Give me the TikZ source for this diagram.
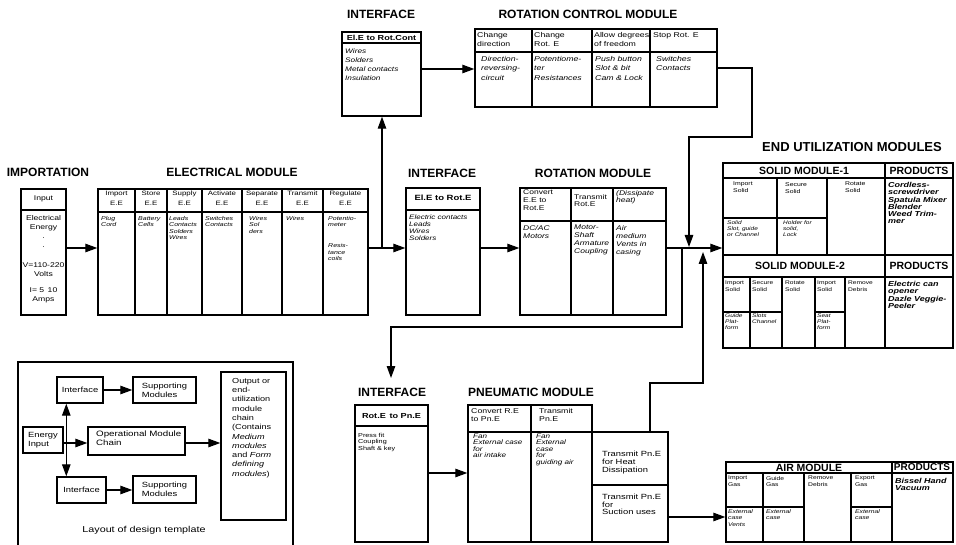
\documentclass[tikz,border=0pt]{standalone}
\usepackage{fontspec}
\setmainfont{Liberation Sans}[FakeStretch=1.25]
\newfontfamily\ttlfont{Liberation Sans}
\usetikzlibrary{arrows.meta,fit}
\newcommand\myfs[2]{\fontsize{#1}{#2}\selectfont}
\begin{document}
\begin{tikzpicture}[x=1pt,y=-1pt,
  bx/.style={draw, line width=1.4pt, inner sep=0pt, fit={#1}},
  ln/.style={line width=1.1pt},
  arr/.style={line width=1.2pt, -{Triangle[length=12pt,width=8.5pt]}},
  darr/.style={line width=1.2pt, {Triangle[length=12pt,width=8.5pt]}-{Triangle[length=12pt,width=8.5pt]}},
  ttl/.style={font=\ttlfont\bfseries\myfs{12}{14}, inner sep=0pt},
  hd/.style={font=\ttlfont\bfseries\myfs{10.5}{12}, inner sep=0pt},
  tx/.style={anchor=north west, align=left, inner sep=0pt},
  tc/.style={anchor=north, align=center, inner sep=0pt}]
\useasboundingbox (0,0) rectangle (956,545);

% ---------------- top interface ----------------
\node[ttl] (tIfc1) at (381,14) {INTERFACE};
\node[bx={(342,32) (421,116)}] (ifc1) {};
\draw[ln] (342,43) -- (421,43);
\node[font=\bfseries\myfs{7.3}{8}, inner sep=0pt] (ifc1h) at (381.5,37.5) {El.E to Rot.Cont};
\node[tx, font=\itshape\myfs{6.6}{9}] (ifc1b) at (345,49) {Wires\\Solders\\Metal contacts\\Insulation};

% ---------------- rotation control ----------------
\node[ttl] (tRc) at (588,14) {ROTATION CONTROL MODULE};
\node[bx={(475,29) (717,107)}] (rc) {};
\draw[ln] (475,52) -- (717,52);
\draw[ln] (532,29) -- (532,107) (592,29) -- (592,107) (650,29) -- (650,107);
\node[tx, font=\myfs{7}{9.5}] (rc1) at (477,32) {Change\\direction};
\node[tx, font=\myfs{7}{9.5}] (rc2) at (534,32) {Change\\Rot. E};
\node[tx, font=\myfs{7}{9.5}] (rc3) at (594,32) {Allow degrees\\of freedom};
\node[tx, font=\myfs{7}{9.5}] (rc4) at (653,32) {Stop Rot. E};
\node[tx, font=\itshape\myfs{7}{9.5}] (rc1b) at (481,56) {Direction-\\reversing-\\circuit};
\node[tx, font=\itshape\myfs{7}{9.5}] (rc2b) at (534,56) {Potentiome-\\ter\\Resistances};
\node[tx, font=\itshape\myfs{7}{9.5}] (rc3b) at (595,56) {Push button\\Slot \& bit\\Cam \& Lock};
\node[tx, font=\itshape\myfs{7}{9.5}] (rc4b) at (656,56) {Switches\\Contacts};

% ---------------- importation ----------------
\node[ttl] (tImp) at (48,172) {IMPORTATION};
\node[bx={(21,189) (66,315)}] (inp) {};
\draw[ln] (21,210) -- (66,210);
\node[font=\myfs{6.9}{9}, inner sep=0pt] (inph) at (43.5,199) {Input};
\node[tc, font=\myfs{6.9}{9}] (inpb) at (43.5,215) {Electrical\\Energy\\.\\.\\[11pt]V=110-220\\Volts\\[7pt]I= 5\enspace 10\\Amps};

% ---------------- electrical module ----------------
\node[ttl] (tEl) at (232,172) {ELECTRICAL MODULE};
\node[bx={(98,189) (368,315)}] (elec) {};
\draw[ln] (98,212) -- (368,212);
\foreach \xx in {135,167,202,242,282,323} \draw[ln] (\xx,189) -- (\xx,315);
\node[tc, font=\myfs{6.3}{9.5}] (e1) at (116.5,191) {Import\\E.E};
\node[tc, font=\myfs{6.3}{9.5}] (e2) at (151,191) {Store\\E.E};
\node[tc, font=\myfs{6.3}{9.5}] (e3) at (184.5,191) {Supply\\E.E};
\node[tc, font=\myfs{6.3}{9.5}] (e4) at (222,191) {Activate\\E.E};
\node[tc, font=\myfs{6.3}{9.5}] (e5) at (262,191) {Separate\\E.E};
\node[tc, font=\myfs{6.3}{9.5}] (e6) at (302.5,191) {Transmit\\E.E};
\node[tc, font=\myfs{6.3}{9.5}] (e7) at (345.5,191) {Regulate\\E.E};
\node[tx, font=\itshape\myfs{5.6}{6.4}] (e1b) at (101,216) {Plug\\Cord};
\node[tx, font=\itshape\myfs{5.6}{6.4}] (e2b) at (138,216) {Battery\\Cells};
\node[tx, font=\itshape\myfs{5.6}{6.4}] (e3b) at (169,216) {Leads\\Contacts\\Solders\\Wires};
\node[tx, font=\itshape\myfs{5.6}{6.4}] (e4b) at (205,216) {Switches\\Contacts};
\node[tx, font=\itshape\myfs{5.6}{6.4}] (e5b) at (249,216) {Wires\\Sol\\ders};
\node[tx, font=\itshape\myfs{5.6}{6.4}] (e6b) at (286,216) {Wires};
\node[tx, font=\itshape\myfs{5.6}{6.4}] (e7b) at (328,216) {Potentio-\\meter\\[14.6pt]Resis-\\tance\\coils};

% ---------------- middle interface ----------------
\node[ttl] (tIfc2) at (442,173) {INTERFACE};
\node[bx={(406,188) (480,315)}] (ifc2) {};
\draw[ln] (406,210) -- (480,210);
\node[font=\bfseries\myfs{7.6}{8}, inner sep=0pt] (ifc2h) at (443,198) {El.E to Rot.E};
\node[tx, font=\itshape\myfs{6.4}{6.8}] (ifc2b) at (409,215) {Electric contacts\\Leads\\Wires\\Solders};

% ---------------- rotation module ----------------
\node[ttl] (tRot) at (593,173) {ROTATION MODULE};
\node[bx={(520,188) (666,315)}] (rot) {};
\draw[ln] (520,221) -- (666,221);
\draw[ln] (571,188) -- (571,315) (613,188) -- (613,315);
\node[tx, font=\myfs{6.8}{7.6}] (r1) at (523,190) {Convert\\E.E to\\Rot.E};
\node[tx, font=\myfs{6.8}{7.6}] (r2) at (574,194) {Transmit\\Rot.E};
\node[tx, font=\itshape\myfs{6.8}{7.6}] (r3) at (616,190) {(Dissipate\\heat)};
\node[tx, font=\itshape\myfs{6.8}{8}] (r1b) at (523,225) {DC/AC\\Motors};
\node[tx, font=\itshape\myfs{6.8}{8}] (r2b) at (574,225) {Motor-\\Shaft\\Armature\\Coupling};
\node[tx, font=\itshape\myfs{6.8}{8}] (r3b) at (616,225) {Air\\medium\\Vents in\\casing};

% ---------------- end utilization ----------------
\node[font=\ttlfont\bfseries\myfs{13}{15}, inner sep=0pt] (tEnd) at (852,147) {END UTILIZATION MODULES};
\node[bx={(723,163) (953,255)}] (sm1) {};
\draw[ln] (723,178) -- (953,178);
\draw[ln] (885,163) -- (885,255) (777,178) -- (777,255) (827,178) -- (827,255) (723,218) -- (827,218);
\node[hd] (sm1h) at (804,170.5) {SOLID MODULE-1};
\node[hd] (sm1p) at (919,170.5) {PRODUCTS};
\node[tx, font=\myfs{5.5}{7}] (s11) at (733,182) {Import\\Solid};
\node[tx, font=\myfs{5.5}{7}] (s12) at (785,182) {Secure\\Solid};
\node[tx, font=\myfs{5.5}{7}] (s13) at (845,182) {Rotate\\Solid};
\node[tx, font=\itshape\myfs{5.2}{6}] (s11b) at (727,221) {Solid\\Slot, guide\\or Channel};
\node[tx, font=\itshape\myfs{5.2}{6}] (s12b) at (783,221) {Holder for\\solid,\\Lock};
\node[tx, font=\bfseries\itshape\myfs{7.2}{7.3}] (s1p) at (888,182) {Cordless-\\screwdriver\\Spatula Mixer\\Blender\\Weed Trim-\\mer};

\node[bx={(723,255) (953,348)}] (sm2) {};
\draw[ln] (723,277) -- (953,277);
\draw[ln] (885,255) -- (885,348);
\foreach \xx in {750,782,815,845} \draw[ln] (\xx,277) -- (\xx,348);
\draw[ln] (723,312) -- (782,312) (815,312) -- (845,312);
\node[hd] (sm2h) at (800,266) {SOLID MODULE-2};
\node[hd] (sm2p) at (919,266) {PRODUCTS};
\node[tx, font=\myfs{5.3}{7}] (s21) at (725,281) {Import\\Solid};
\node[tx, font=\myfs{5.3}{7}] (s22) at (752,281) {Secure\\Solid};
\node[tx, font=\myfs{5.3}{7}] (s23) at (785,281) {Rotate\\Solid};
\node[tx, font=\myfs{5.3}{7}] (s24) at (817,281) {Import\\Solid};
\node[tx, font=\myfs{5.3}{7}] (s25) at (848,281) {Remove\\Debris};
\node[tx, font=\itshape\myfs{5.2}{6}] (s21b) at (725,314) {Guide\\Plat-\\form};
\node[tx, font=\itshape\myfs{5.2}{6}] (s22b) at (752,314) {Slots\\Channel};
\node[tx, font=\itshape\myfs{5.2}{6}] (s24b) at (817,314) {Seat\\Plat-\\form};
\node[tx, font=\bfseries\itshape\myfs{7.2}{7.3}] (s2p) at (888,281) {Electric can\\opener\\Dazle Veggie-\\Peeler};

% ---------------- air module ----------------
\node[bx={(726,462) (953,542)}] (air) {};
\draw[ln] (726,473) -- (953,473);
\draw[ln] (892,462) -- (892,542);
\foreach \xx in {763,804,851} \draw[ln] (\xx,473) -- (\xx,542);
\draw[ln] (726,507) -- (804,507) (851,507) -- (892,507);
\node[hd] (airh) at (809,467.5) {AIR MODULE};
\node[font=\ttlfont\bfseries\myfs{10}{12}, inner sep=0pt] (airp) at (922,467.5) {PRODUCTS};
\node[tx, font=\myfs{5.4}{6.5}] (a1) at (728,476) {Import\\Gas};
\node[tx, font=\myfs{5.4}{6.5}] (a2) at (766,476) {Guide\\Gas};
\node[tx, font=\myfs{5.4}{6.5}] (a3) at (808,476) {Remove\\Debris};
\node[tx, font=\myfs{5.4}{6.5}] (a4) at (855,476) {Export\\Gas};
\node[tx, font=\itshape\myfs{5.4}{6.5}] (a1b) at (728,509) {External\\case\\Vents};
\node[tx, font=\itshape\myfs{5.4}{6.5}] (a2b) at (766,509) {External\\case};
\node[tx, font=\itshape\myfs{5.4}{6.5}] (a4b) at (855,509) {External\\case};
\node[tx, font=\bfseries\itshape\myfs{7.2}{7.3}] (ap) at (895,478) {Bissel Hand\\Vacuum};

% ---------------- pneumatic ----------------
\node[ttl] (tIfc3) at (392,392) {INTERFACE};
\node[ttl] (tPn) at (531,392) {PNEUMATIC MODULE};
\node[bx={(355,405) (428,542)}] (pif) {};
\draw[ln] (355,426) -- (428,426);
\node[font=\bfseries\myfs{7.3}{8}, inner sep=0pt] (pifh) at (391.5,416) {Rot.E\enspace to Pn.E};
\node[tx, font=\myfs{5.8}{6.5}] (pifb) at (358,433) {Press fit\\Coupling\\Shaft \& key};

\node[bx={(468,405) (592,542)}] (pneu) {};
\draw[ln] (468,432) -- (592,432) (531,405) -- (531,542);
\node[bx={(592,432) (668,485)}] (heat) {};
\node[bx={(592,485) (668,542)}] (suc) {};
\node[tx, font=\myfs{7}{8}] (p1) at (471,408) {Convert R.E\\to Pn.E};
\node[tx, font=\myfs{7}{8}] (p2) at (539,408) {Transmit\\Pn.E};
\node[tx, font=\itshape\myfs{6.5}{6.5}] (p1b) at (473,433.5) {Fan\\External case\\for\\air intake};
\node[tx, font=\itshape\myfs{6.5}{6.5}] (p2b) at (536,433.5) {Fan\\External\\case\\for\\guiding air};
\node[tx, font=\myfs{7.5}{8}] (heatt) at (602,451) {Transmit Pn.E\\for Heat\\Dissipation};
\node[tx, font=\myfs{7.5}{7.5}] (suct) at (602,494) {Transmit Pn.E\\for\\Suction uses};

% ---------------- connectors ----------------
\coordinate (jA) at (382,248);
\coordinate (jB) at (689,247);
\coordinate (jC) at (682,248);
\coordinate (jD) at (391,378);
\coordinate (jE) at (703,252);
\draw[arr] (inp.east |- 0,248) -- (elec.west |- 0,248);
\draw[arr] (elec.east |- 0,248) -- (ifc2.west |- 0,248);
\draw[arr] (jA) -- (jA |- ifc1.south);
\draw[arr] (ifc1.east |- 0,69) -- (rc.west |- 0,69);
\draw[arr] (ifc2.east |- 0,248) -- (rot.west |- 0,248);
\draw[arr] (rot.east |- 0,248) -- (sm1.west |- 0,248);
\draw[arr] (rc.east) -- (752,68) -- (752,137) -- (689,137) -- (jB);
\draw[arr] (jC) |- (jD |- 0,327) -- (jD);
\draw[arr] ([xshift=20pt]heat.north) -- (650,383) -- (703,383) -- (jE);
\draw[arr] (pif.east |- 0,473) -- (pneu.west |- 0,473);
\draw[arr] (suc.east |- 0,517) -- (air.west |- 0,517);

% ---------------- layout template ----------------
\draw[line width=1.4pt] (18,545) -- (18,362) -- (293,362) -- (293,545);
\node[bx={(57,377) (103,403)}] (itop) {};
\node[bx={(133,377) (196,403)}] (stop) {};
\node[bx={(23,427) (63,453)}] (ein) {};
\node[bx={(88,427) (185,455)}] (opc) {};
\node[bx={(57,477) (106,503)}] (ibot) {};
\node[bx={(133,476) (196,503)}] (sbot) {};
\node[bx={(221,372) (286,520)}] (outb) {};
\node[font=\myfs{7.5}{9}, inner sep=0pt] (itopt) at (itop) {Interface};
\node[font=\myfs{7.5}{9}, inner sep=0pt, align=left] (stopt) at (stop) {Supporting\\Modules};
\node[font=\myfs{7.5}{9}, inner sep=0pt, align=left] (eint) at (ein) {Energy\\Input};
\node[tx, font=\myfs{7.8}{9}] (opct) at (96,431) {Operational Module\\Chain};
\node[font=\myfs{7.5}{9}, inner sep=0pt] (ibott) at (ibot) {Interface};
\node[font=\myfs{7.5}{9}, inner sep=0pt, align=left] (sbott) at (sbot) {Supporting\\Modules};
\node[tx, font=\myfs{7.3}{9.3}] (outt) at (232,378) {Output or\\end-\\utilization\\module\\chain\\(Contains\\\textit{Medium}\\\textit{modules}\\and \textit{Form}\\\textit{defining}\\\textit{modules})};
\node[font=\myfs{8.6}{10}, inner sep=0pt] (lay) at (144,530) {Layout of design template};
\draw[arr] (itop.east) -- (stop.west |- itop.east);
\draw[arr] (ein.east |- 0,443) -- (opc.west |- 0,443);
\draw[arr] (opc.east |- 0,443) -- (outb.west |- 0,443);
\draw[darr] ([xshift=10pt]itop.south west) -- ([xshift=10pt]ibot.north west);
\draw[arr] (ibot.east) -- (sbot.west |- ibot.east);
\end{tikzpicture}
\end{document}
